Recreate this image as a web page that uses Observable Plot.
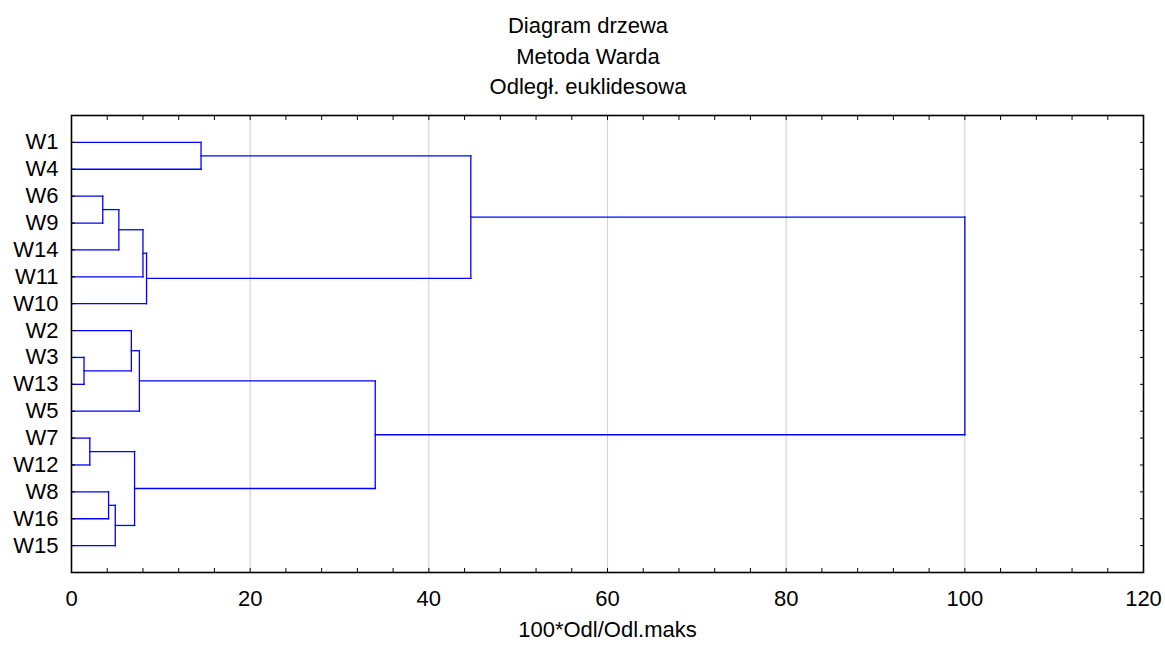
<!DOCTYPE html>
<html><head><meta charset="utf-8">
<script src="https://cdn.jsdelivr.net/npm/d3@7"></script>
<script src="https://cdn.jsdelivr.net/npm/@observablehq/plot@0.6"></script>
<style>
body{margin:0;background:#fff;font-family:"Liberation Sans",Arial,sans-serif;}
#title{height:100px;box-sizing:border-box;padding-top:11px;padding-left:11px;text-align:center;font-size:22px;line-height:30.5px;color:#000;}
#chart svg{display:block;}
</style></head><body>
<div id="title"><div>Diagram drzewa</div><div>Metoda Warda</div><div>Odległ. euklidesowa</div></div>
<div id="chart"></div>
<script>
// Leaf order (top to bottom)
const leaves = ["W1","W4","W6","W9","W14","W11","W10","W2","W3","W13","W5","W7","W12","W8","W16","W15"];
// Merge steps: cluster Ck is created by merge k (1-based)
const mergeLeft   = ["W6","C1","C2","C3","W1","C5","W3","W2","C8","W7","W8","C11","C10","C9","C6"];
const mergeRight  = ["W9","W14","W11","W10","W4","C4","W13","C7","W5","W12","W16","W15","C12","C13","C14"];
const mergeHeight = [3.5, 5.3, 8.0, 8.4, 14.5, 44.7, 1.4, 6.7, 7.6, 2.05, 4.15, 4.9, 7.06, 34.0, 100];
// Axis ticks
const xTicks = [0, 20, 40, 60, 80, 100, 120];
const xMinorTicks = [0,4,8,12,16,20,24,28,32,36,40,44,48,52,56,60,64,68,72,76,80,84,88,92,96,100,104,108,112,116,120];
const gridTicks = [20, 40, 60, 80, 100];
const xLabel = "100*Odl/Odl.maks";

// Build dendrogram segments
const nodes = new Map(leaves.map((name, i) => [name, {y: i, h: 0}]));
const segments = [];
mergeHeight.forEach((h, i) => {
  const a = nodes.get(mergeLeft[i]), b = nodes.get(mergeRight[i]);
  segments.push({x1: a.h, x2: h, y1: a.y, y2: a.y});
  segments.push({x1: b.h, x2: h, y1: b.y, y2: b.y});
  segments.push({x1: h, x2: h, y1: a.y, y2: b.y});
  nodes.set("C" + (i + 1), {y: (a.y + b.y) / 2, h});
});
const yIdx = leaves.map((d, i) => i);

const plot = Plot.plot({
  width: 1165, height: 546,
  marginTop: 15, marginBottom: 74, marginLeft: 71, marginRight: 22,
  style: {fontFamily: '"Liberation Sans",Arial,sans-serif', fontSize: "22px", color: "#000", background: "#fff"},
  x: {domain: [0, 120]},
  y: {domain: [leaves.length, -1]},
  marks: [
    Plot.gridX(gridTicks, {stroke: "#d4d4d4", strokeOpacity: 1, strokeWidth: 1.2}),
    Plot.link(segments, {x1: "x1", y1: "y1", x2: "x2", y2: "y2", stroke: "#0000ff", strokeWidth: 1.3, strokeLinecap: "square"}),
    Plot.axisX(xMinorTicks, {anchor: "bottom", tickSize: -4, tickFormat: () => "", label: null}),
    Plot.axisX(xTicks, {anchor: "bottom", tickSize: 0, tickPadding: 18, label: null}),
    Plot.axisX(xMinorTicks, {anchor: "top", tickSize: -4, tickFormat: () => "", label: null}),
    Plot.axisY(yIdx, {anchor: "left", tickSize: -4, tickPadding: 17, tickFormat: i => leaves[i], label: null}),
    Plot.axisY(yIdx, {anchor: "right", tickSize: -4, tickFormat: () => "", label: null}),
    Plot.frame({stroke: "#000", strokeWidth: 1.6}),
    Plot.text([xLabel], {frameAnchor: "bottom", dy: 64, text: d => d})
  ]
});
document.getElementById("chart").appendChild(plot);
</script>
</body></html>
